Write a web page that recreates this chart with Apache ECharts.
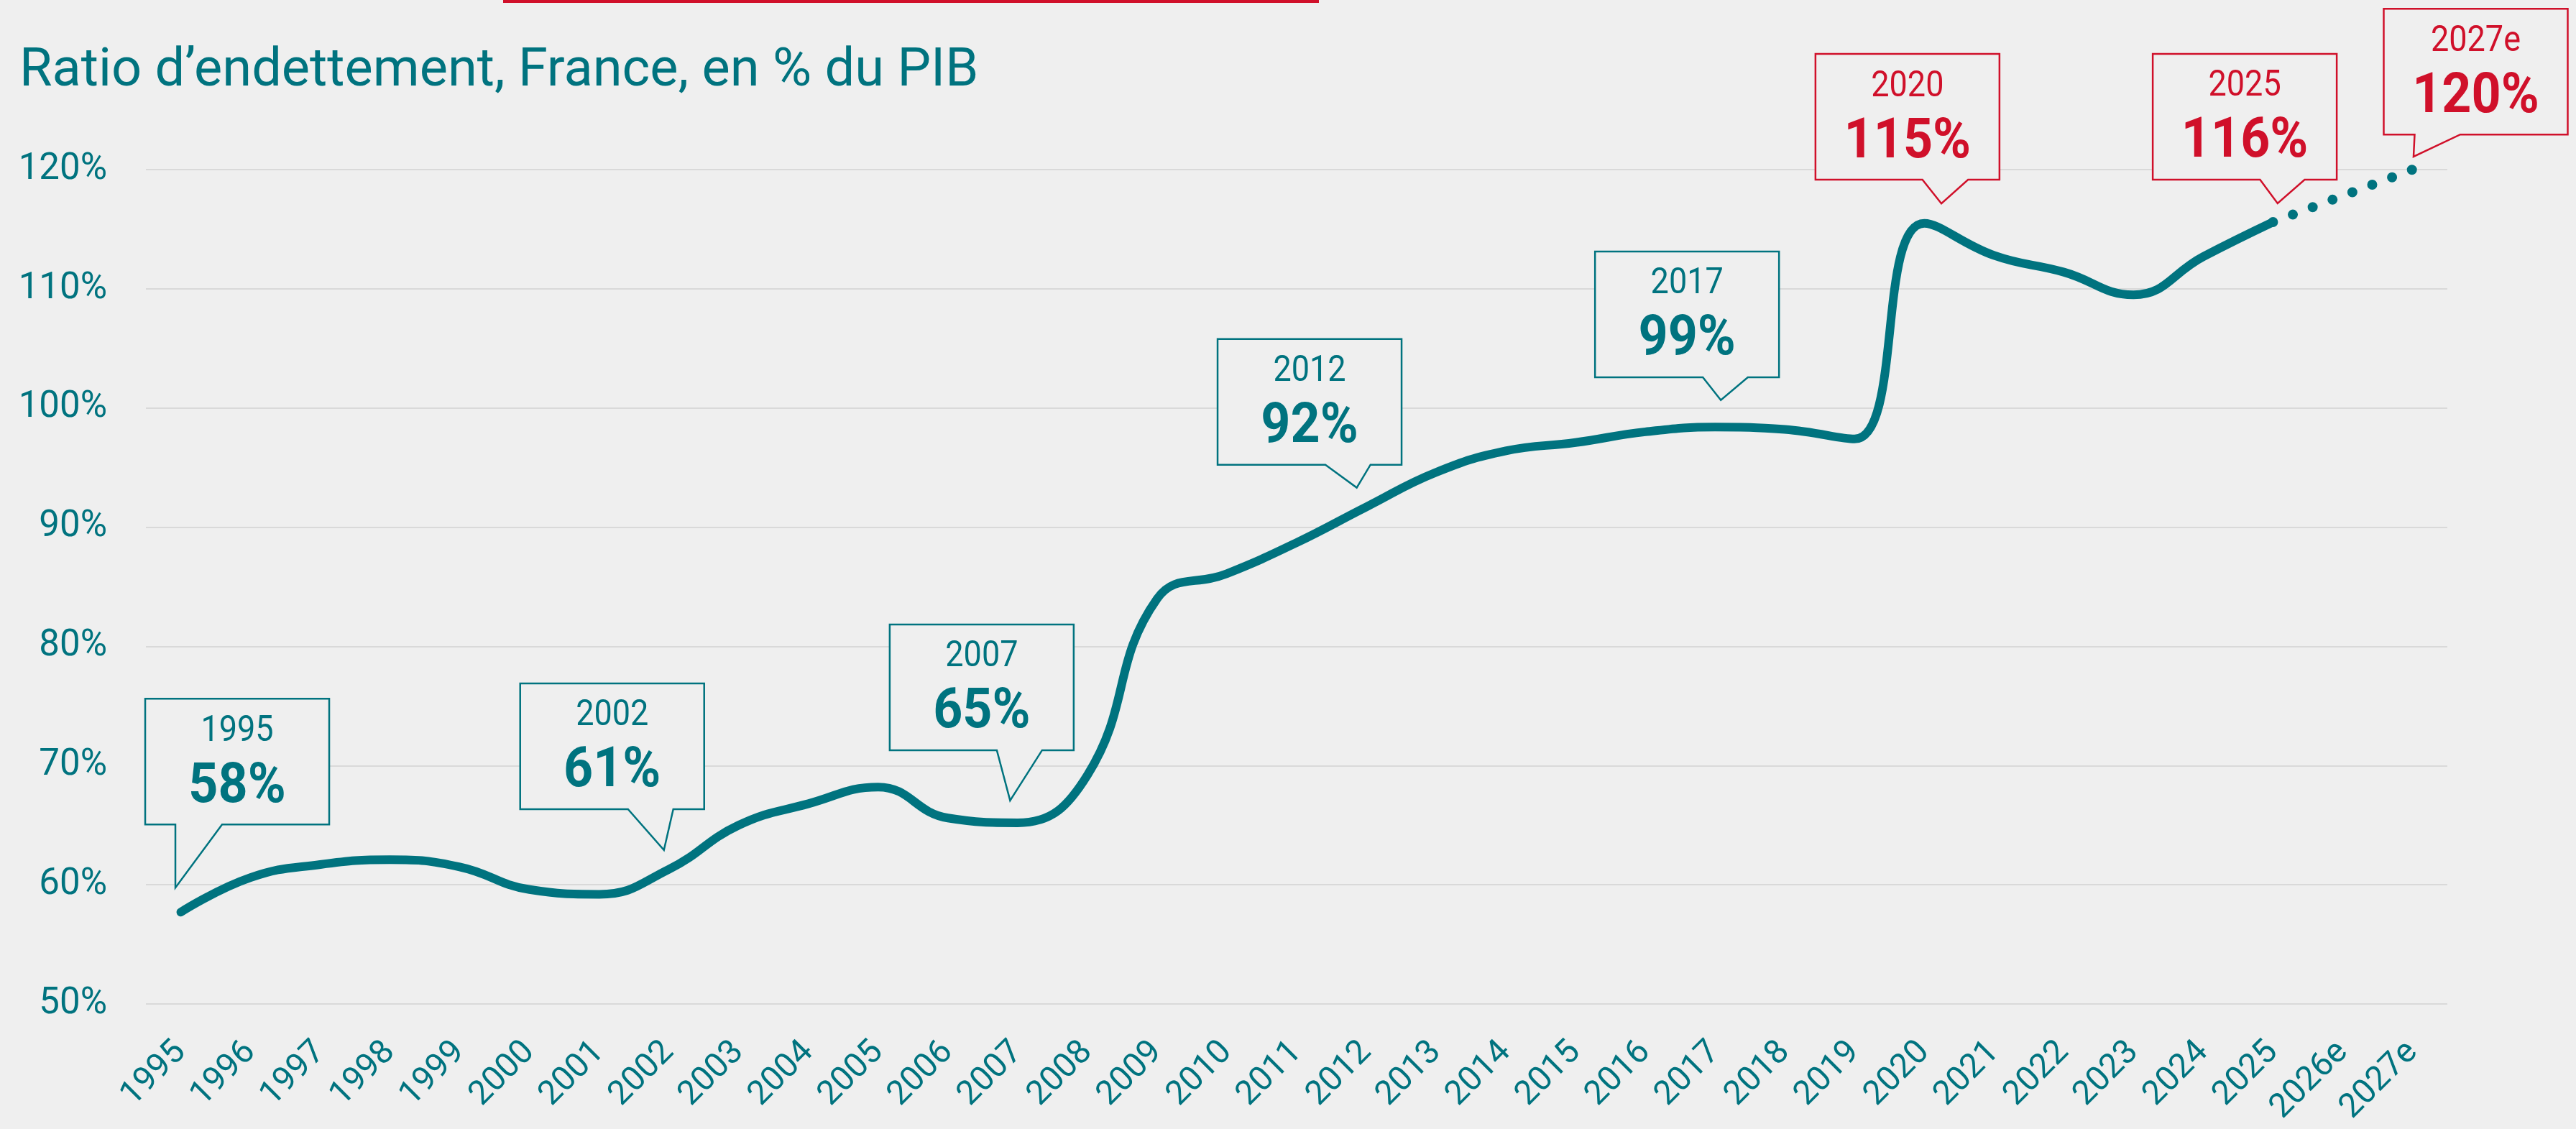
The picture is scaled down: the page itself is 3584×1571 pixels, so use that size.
<!DOCTYPE html>
<html>
<head>
<meta charset="utf-8">
<script src="https://cdn.jsdelivr.net/npm/echarts@6/dist/echarts.min.js"></script>
<style>
html,body{margin:0;padding:0;background:#efefef;}
#c{width:3584px;height:1571px;}
</style>
</head>
<body>
<div id="c"></div>
<script>
// ---- data ----
const years = ['1995','1996','1997','1998','1999','2000','2001','2002','2003','2004','2005','2006','2007','2008','2009','2010','2011','2012','2013','2014','2015','2016','2017','2018','2019','2020','2021','2022','2023','2024','2025','2026e','2027e'];
const actualValues = [57.7,60.6,61.7,62.1,61.5,59.6,59.2,61.3,65.0,66.8,68.2,65.6,65.2,69.2,84.0,86.1,88.7,91.7,94.6,96.4,97.1,98.0,98.4,98.2,97.4,115.5,112.8,111.4,109.5,112.7,115.6];
const projectedYears = ['2025','2026e','2027e'];
const projectedValues = [115.6,117.8,120.0];
const yTicks = [50,60,70,80,90,100,110,120];
const calloutYears = ['1995','2002','2007','2012','2017','2020','2025','2027e'];
const calloutLabels = ['58%','61%','65%','92%','99%','115%','116%','120%'];
const calloutValues = [57.7,61.3,65.2,91.7,98.4,115.5,115.6,120.0];
const titleText = 'Ratio d\u2019endettement, France, en % du PIB';

// ---- styles / layout ----
const TEAL = '#00737f';
const RED = '#d0102a';
const BG = '#efefef';
const FONT = 'Roboto';
const calloutColor = [TEAL,TEAL,TEAL,TEAL,TEAL,RED,RED,RED];
// box offset relative to the data point, tail points relative to point
const boxDx = [-49.5,-207,-178,-207,-167,-151.4,-167.3,-40];
const boxDy = [-297,-258.7,-276,-233.7,-244.3,-235.6,-234,-223.8];
const tailA = [-7.5,-57,-29,-57,-17,-2.6,-18,3];
const tipXY = [[-7.5,-34],[-7,-26.7],[-10.5,-31],[-13.4,-26.8],[8,-37.5],[23.8,-27.4],[6.4,-26],[1.5,-18]];
const tailB = [57.5,6,34,5.7,45.6,60.9,44,66.5];
const BOX_W = 256, BOX_H = 175;

const solidData = years.map((y,i)=> i < actualValues.length ? actualValues[i] : null);
const dottedData = years.map(y => { const k = projectedYears.indexOf(y); return k >= 0 ? projectedValues[k] : null; });

const chart = echarts.init(document.getElementById('c'), null, {renderer:'canvas'});
chart.setOption({
  backgroundColor: BG,
  animation: false,
  grid: {left: 203, right: 179, top: 236, bottom: 174, containLabel: false},
  xAxis: {
    type: 'category',
    data: years,
    boundaryGap: true,
    axisLine: {show:false},
    axisTick: {show:false},
    axisLabel: {rotate: 45, margin: 60, color: TEAL, fontFamily: FONT, fontSize: 47, interval: 0}
  },
  yAxis: {
    type: 'value',
    min: yTicks[0], max: yTicks[yTicks.length-1], interval: 10,
    axisLine: {show:false},
    axisTick: {show:false},
    axisLabel: {formatter: '{value}%', color: TEAL, fontFamily: FONT, fontSize: 51, margin: 54},
    splitLine: {lineStyle: {color: '#d9d9d9', width: 2}}
  },
  series: [
    {
      type: 'line', data: solidData, smooth: 0.45, symbol: 'none', connectNulls: false,
      lineStyle: {color: TEAL, width: 12, cap: 'round', join: 'round'}, z: 3
    },
    {
      type: 'line', data: dottedData, smooth: false, symbol: 'none',
      lineStyle: {color: TEAL, width: 14, type: [0, 29.5], cap: 'round'}, z: 2
    }
  ]
});

const graphics = [];
graphics.push({type:'rect', shape:{x:700,y:0,width:1135,height:4}, style:{fill:RED}, z:10});
graphics.push({type:'text', x:27, y:100, style:{text:titleText, fill:TEAL, font:'74px '+FONT, fontSize:74, fontFamily:FONT, textAlign:'left', align:'left', textVerticalAlign:'middle', verticalAlign:'middle'}, z:10});

calloutYears.forEach((yr, i) => {
  const p = chart.convertToPixel({xAxisIndex:0, yAxisIndex:0}, [years.indexOf(yr), calloutValues[i]]);
  const L = p[0] + boxDx[i], T = p[1] + boxDy[i], R = L + BOX_W, B = T + BOX_H;
  const pts = [[L,T],[R,T],[R,B],[p[0]+tailB[i],B],[p[0]+tipXY[i][0],p[1]+tipXY[i][1]],[p[0]+tailA[i],B],[L,B]];
  const col = calloutColor[i];
  graphics.push({type:'polygon', shape:{points:pts}, style:{fill:BG, stroke:col, lineWidth:2.5, lineJoin:'miter'}, z:20});
  graphics.push({type:'text', x:L+BOX_W/2, y:T+46, scaleX:0.9, style:{text:yr, fill:col, fontSize:50, fontFamily:FONT, font:'50px '+FONT, textAlign:'center', align:'center', textVerticalAlign:'middle', verticalAlign:'middle'}, z:21});
  graphics.push({type:'text', x:L+BOX_W/2, y:T+124, scaleX:0.92, style:{text:calloutLabels[i], fill:col, fontSize:78, fontWeight:'bold', fontFamily:FONT, font:'bold 78px '+FONT, textAlign:'center', align:'center', textVerticalAlign:'middle', verticalAlign:'middle'}, z:21});
});
chart.setOption({graphic: {elements: graphics}});
</script>
</body>
</html>
